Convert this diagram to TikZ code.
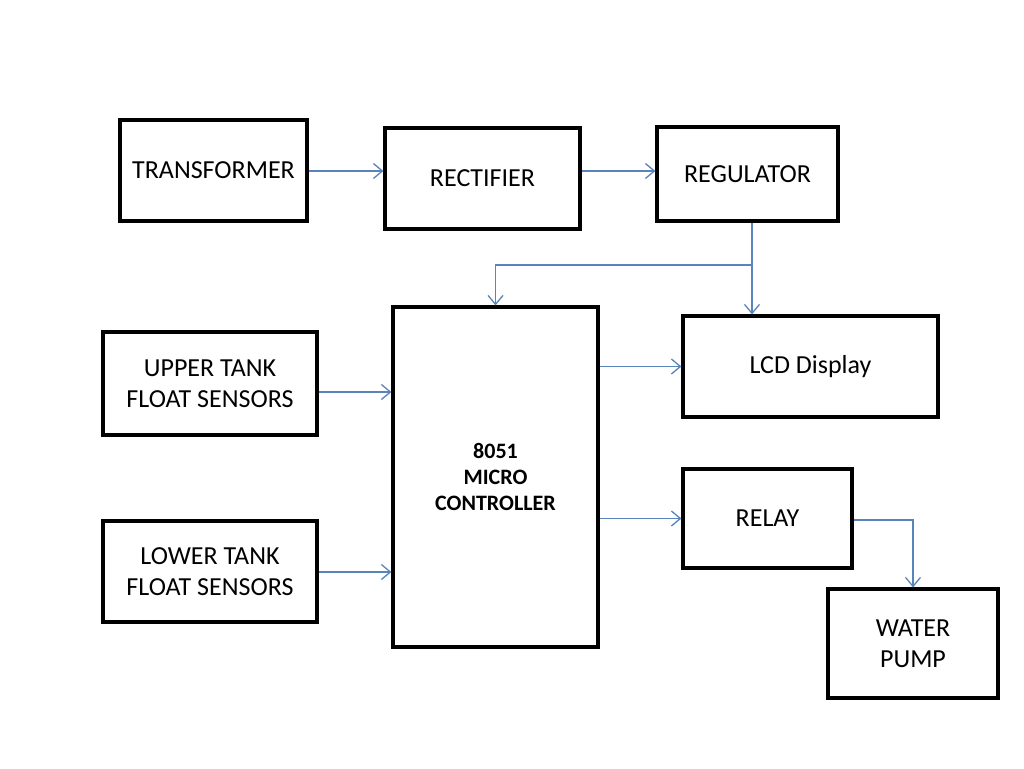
\documentclass[tikz,border=0pt]{standalone}
\usepackage{fontspec}
\setmainfont{Carlito}
\usetikzlibrary{arrows.meta,positioning}
\definecolor{linkblue}{RGB}{88,132,186}

\begin{document}
\begin{tikzpicture}[x=1pt,y=-1pt,>={Straight Barb[length=9pt,width=15pt]},
    block/.style={rectangle, draw=black, line width=3.2pt, align=center, inner sep=0pt,
                  font=\fontsize{26}{31}\selectfont},
    link/.style={->, draw=linkblue, line width=1.3pt}]
    \useasboundingbox (0,0) rectangle (1024,768);

    % power supply chain
    \node[block, minimum width=187pt, minimum height=101pt] (trans) at (213.5,170.5) {TRANSFORMER};
    \node[block, minimum width=195pt, minimum height=101pt] (rect)  at (482.5,178.5) {RECTIFIER};
    \node[block, minimum width=181pt, minimum height=94pt]  (reg)   at (747.5,174)   {REGULATOR};

    % sensors and controller
    \node[block, minimum width=214pt, minimum height=103pt] (upper) at (210,383.5) {UPPER TANK\\FLOAT SENSORS};
    \node[block, minimum width=214pt, minimum height=101pt] (lower) at (210,571.5) {LOWER TANK\\FLOAT SENSORS};
    \node[block, minimum width=205pt, minimum height=340pt,
          font=\fontsize{22}{26}\selectfont\bfseries] (mc) at (495.5,477) {8051\\MICRO\\CONTROLLER};

    % outputs
    \node[block, minimum width=255pt, minimum height=101pt] (lcd)   at (810.5,366.5) {LCD Display};
    \node[block, minimum width=169pt, minimum height=99pt]  (relay) at (767.5,518.5) {RELAY};
    \node[block, minimum width=170pt, minimum height=109pt] (pump)  at (913,643.5)   {WATER\\PUMP};

    \coordinate (tap) at (752,265);

    \draw[link] (trans.east |- 0,171) -- (rect.west |- 0,171);
    \draw[link] (rect.east |- 0,171) -- (reg.west |- 0,171);
    \draw[link] (reg.south -| tap) -- (lcd.north -| tap);
    \draw[link] (tap) -| (mc.north);
    \draw[link] (upper.east |- 0,392) -- (mc.west |- 0,392);
    \draw[link] (lower.east |- 0,572) -- (mc.west |- 0,572);
    \draw[link] (mc.east |- lcd) -- (lcd.west);
    \draw[link] (mc.east |- relay) -- (relay.west);
    \draw[link] (relay.east |- 0,520) -| (pump.north);
\end{tikzpicture}
\end{document}
